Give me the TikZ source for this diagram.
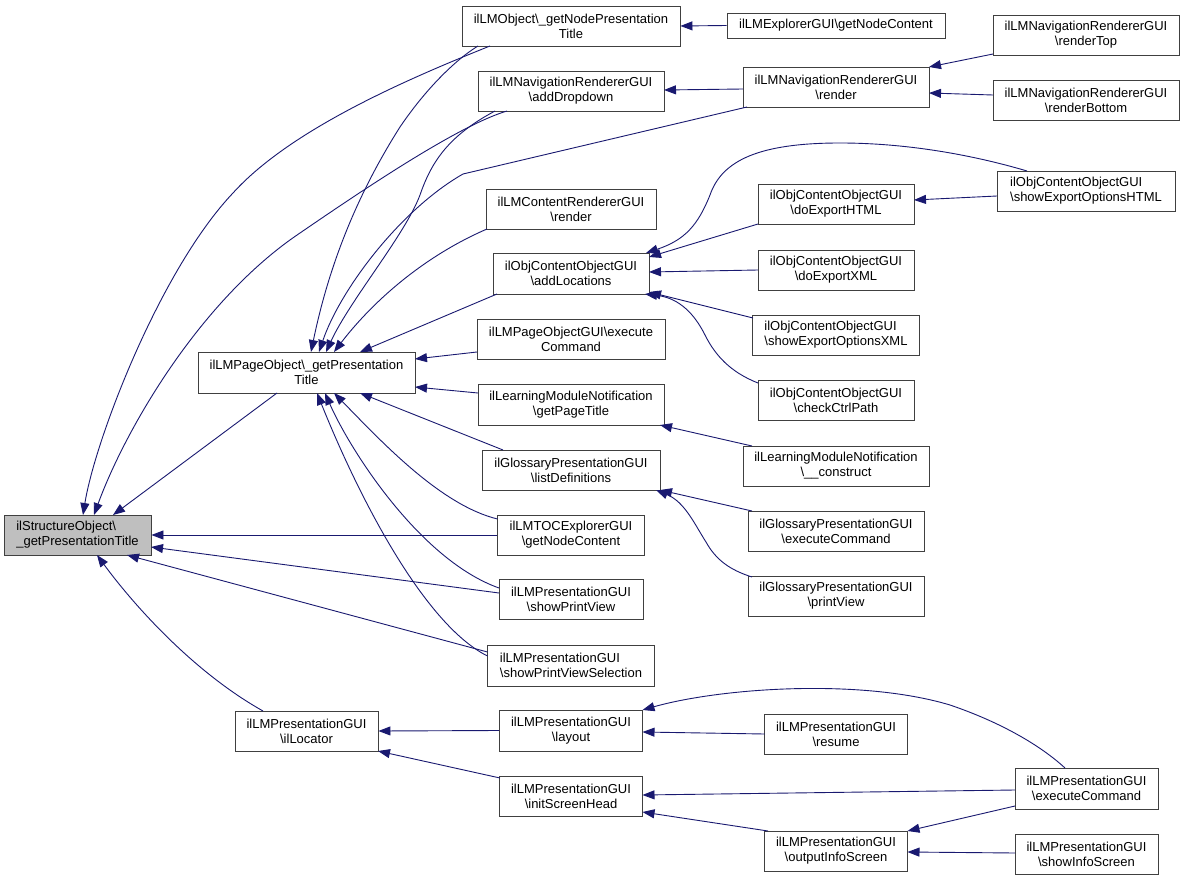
\documentclass[tikz,border=0pt]{standalone}
\usepackage{fontspec}
\setmainfont{Liberation Sans}
\usetikzlibrary{arrows.meta,calc}
\definecolor{edgecol}{HTML}{191970}
\definecolor{rootfill}{HTML}{BFBFBF}
\newcommand{\bs}{\textbackslash}
\begin{document}
\begin{tikzpicture}[x=1pt,y=-1pt,
  dbox/.style={draw=black!75,line width=0.9pt,fill=white,inner sep=0pt,align=center,
    font=\fontsize{13}{15}\selectfont},
  cl/.style={draw=edgecol,line width=0.9pt,{Triangle[length=12pt,width=9pt]}-}]
\fill[white] (0,0) rectangle (1184,880);
\useasboundingbox (0,0) rectangle (1184,880);
% nodes
\node[dbox,fill=rootfill,align=left,minimum width=147pt,minimum height=40pt] (S) at (77.5,535) {ilStructureObject\bs\\\_getPresentationTitle};
\node[dbox,minimum width=218pt,minimum height=40pt] (LMObj) at (571,26) {ilLMObject\bs\_getNodePresentation\\Title};
\node[dbox,minimum width=218pt,minimum height=25pt] (Expl) at (836,25.5) {ilLMExplorerGUI\bs getNodeContent};
\node[dbox,minimum width=186pt,minimum height=40pt] (RTop) at (1086,35) {ilLMNavigationRendererGUI\\\bs renderTop};
\node[dbox,minimum width=186pt,minimum height=40pt] (RBot) at (1086,100) {ilLMNavigationRendererGUI\\\bs renderBottom};
\node[dbox,minimum width=186pt,minimum height=40pt] (AddD) at (571,91) {ilLMNavigationRendererGUI\\\bs addDropdown};
\node[dbox,minimum width=186pt,minimum height=40pt] (Rend) at (836,87) {ilLMNavigationRendererGUI\\\bs render};
\node[dbox,minimum width=170pt,minimum height=40pt] (CRend) at (571,209) {ilLMContentRendererGUI\\\bs render};
\node[dbox,minimum width=156pt,minimum height=40pt] (DoHTML) at (836,204) {ilObjContentObjectGUI\\\bs doExportHTML};
\node[dbox,align=left,minimum width=178pt,minimum height=40pt] (SHTML) at (1086,191) {ilObjContentObjectGUI\\\bs showExportOptionsHTML};
\node[dbox,minimum width=156pt,minimum height=41pt] (AddLoc) at (571,273.5) {ilObjContentObjectGUI\\\bs addLocations};
\node[dbox,minimum width=156pt,minimum height=40pt] (DoXML) at (836,270) {ilObjContentObjectGUI\\\bs doExportXML};
\node[dbox,align=left,minimum width=167pt,minimum height=40pt] (SXML) at (836,335) {ilObjContentObjectGUI\\\bs showExportOptionsXML};
\node[dbox,minimum width=156pt,minimum height=40pt] (Check) at (836,400) {ilObjContentObjectGUI\\\bs checkCtrlPath};
\node[dbox,minimum width=217pt,minimum height=41pt] (PageObj) at (306.5,372.5) {ilLMPageObject\bs\_getPresentation\\Title};
\node[dbox,minimum width=188pt,minimum height=40pt] (PGUIExec) at (571,339) {ilLMPageObjectGUI\bs execute\\Command};
\node[dbox,minimum width=186pt,minimum height=41pt] (GetPT) at (571,404.5) {ilLearningModuleNotification\\\bs getPageTitle};
\node[dbox,minimum width=186pt,minimum height=40pt] (Constr) at (836,466) {ilLearningModuleNotification\\\bs\_\_construct};
\node[dbox,minimum width=178pt,minimum height=40pt] (ListDef) at (571,470) {ilGlossaryPresentationGUI\\\bs listDefinitions};
\node[dbox,minimum width=176pt,minimum height=40pt] (GExec) at (836,531) {ilGlossaryPresentationGUI\\\bs executeCommand};
\node[dbox,minimum width=147pt,minimum height=40pt] (TOC) at (571,535) {ilLMTOCExplorerGUI\\\bs getNodeContent};
\node[dbox,minimum width=176pt,minimum height=40pt] (PrintV) at (836,596) {ilGlossaryPresentationGUI\\\bs printView};
\node[dbox,minimum width=144pt,minimum height=40pt] (SPV) at (571,599) {ilLMPresentationGUI\\\bs showPrintView};
\node[dbox,align=left,minimum width=167pt,minimum height=41pt] (SPVS) at (571,665.5) {ilLMPresentationGUI\\\bs showPrintViewSelection};
\node[dbox,minimum width=143pt,minimum height=40pt] (Loc) at (306.5,731) {ilLMPresentationGUI\\\bs ilLocator};
\node[dbox,minimum width=143pt,minimum height=41pt] (Layout) at (571,730.5) {ilLMPresentationGUI\\\bs layout};
\node[dbox,minimum width=143pt,minimum height=40pt] (Resume) at (836,734) {ilLMPresentationGUI\\\bs resume};
\node[dbox,minimum width=143pt,minimum height=40pt] (ISH) at (571,796) {ilLMPresentationGUI\\\bs initScreenHead};
\node[dbox,minimum width=143pt,minimum height=41pt] (LExec) at (1086.5,788.5) {ilLMPresentationGUI\\\bs executeCommand};
\node[dbox,minimum width=143pt,minimum height=40pt] (OIS) at (836,851) {ilLMPresentationGUI\\\bs outputInfoScreen};
\node[dbox,minimum width=143pt,minimum height=40pt] (SIS) at (1086.5,854) {ilLMPresentationGUI\\\bs showInfoScreen};
% edges into S
\draw[cl] ($(S)+(5.5,-20)$) .. controls (95,440) and (160,270) .. (233,193) .. controls (290,130) and (405,80) .. ($(LMObj)+(-81,20)$);
\draw[cl] ($(S)+(16.5,-20)$) .. controls (125,430) and (200,300) .. (300,233) .. controls (370,185) and (460,125) .. ($(AddD)+(-64,20)$);
\draw[cl] ($(S)+(35.5,-20)$) -- ($(PageObj)+(-29.5,20.5)$);
\draw[cl] (S.east) -- (TOC.west);
\draw[cl] ($(S)+(73.5,12)$) -- ($(SPV)+(-72,-6)$);
\draw[cl] ($(S)+(49.5,20)$) -- ($(SPVS)+(-83.5,-13.5)$);
\draw[cl] ($(S)+(19.5,20)$) .. controls (130,600) and (190,670) .. ($(Loc)+(-43.5,-20)$);
% edges into PageObj
\draw[cl] ($(PageObj)+(4.5,-20.5)$) .. controls (330,260) and (360,190) .. (400,127) .. controls (425,90) and (455,60) .. ($(LMObj)+(-93,20)$);
\draw[cl] ($(PageObj)+(12.5,-20.5)$) .. controls (340,290) and (400,210) .. (463,174) -- ($(Rend)+(-89,20)$);
\draw[cl] ($(PageObj)+(19.5,-20.5)$) .. controls (350,300) and (405,235) .. (420,195) .. controls (432,160) and (450,135) .. ($(AddD)+(-76,20)$);
\draw[cl] ($(PageObj)+(27.5,-20.5)$) .. controls (370,305) and (420,258) .. ($(CRend)+(-84,20)$);
\draw[cl] ($(PageObj)+(53.5,-20.5)$) -- ($(AddLoc)+(-74,20.5)$);
\draw[cl] ($(PageObj)+(108.5,-13.5)$) -- ($(PGUIExec)+(-94,13)$);
\draw[cl] ($(PageObj)+(108.5,14.5)$) -- ($(GetPT)+(-93,-11.5)$);
\draw[cl] ($(PageObj)+(53.5,20.5)$) -- ($(ListDef)+(-68,-20)$);
\draw[cl] ($(PageObj)+(27.5,20.5)$) .. controls (380,440) and (440,505) .. ($(TOC)+(-73.5,-16)$);
\draw[cl] ($(PageObj)+(18.5,20.5)$) .. controls (350,450) and (420,560) .. ($(SPV)+(-72,-11)$);
\draw[cl] ($(PageObj)+(10.5,20.5)$) .. controls (360,500) and (425,625) .. ($(SPVS)+(-83.5,-9.5)$);
% top right
\draw[cl] (LMObj.east) -- (Expl.west);
\draw[cl] ($(AddD)+(93,-1)$) -- ($(Rend)+(-93,2)$);
\draw[cl] ($(Rend)+(93,-20)$) -- ($(RTop)+(-93,19)$);
\draw[cl] ($(Rend)+(93,6)$) -- ($(RBot)+(-93,-5)$);
% addLocations cluster
\draw[cl] ($(DoHTML)+(78,-4)$) -- ($(SHTML)+(-89,5)$);
\draw[cl] ($(AddLoc)+(75,-20.5)$) .. controls (685,240) and (698,225) .. (710,195) .. controls (722,160) and (760,143) .. (840,143) .. controls (920,143) and (990,160) .. ($(SHTML)+(-59,-20)$);
\draw[cl] ($(AddLoc)+(78,-16.5)$) -- ($(DoHTML)+(-78,20)$);
\draw[cl] ($(AddLoc)+(78,-1.5)$) -- ($(DoXML)+(-78,0)$);
\draw[cl] ($(AddLoc)+(78,18.5)$) -- ($(SXML)+(-83,-17)$);
\draw[cl] ($(AddLoc)+(74,20.5)$) .. controls (680,298) and (695,315) .. (705,335) .. controls (715,355) and (730,372) .. ($(Check)+(-78,-17)$);
% notification / glossary
\draw[cl] ($(GetPT)+(89,20.5)$) -- ($(Constr)+(-84,-20)$);
\draw[cl] ($(ListDef)+(89,20)$) -- ($(GExec)+(-84,-20)$);
\draw[cl] ($(ListDef)+(85,20)$) .. controls (685,502) and (695,525) .. (706,542) .. controls (716,560) and (730,570) .. ($(PrintV)+(-84,-19)$);
% presentation GUI
\draw[cl] (Loc.east) -- (Layout.west);
\draw[cl] ($(Loc)+(71.5,20)$) -- ($(ISH)+(-71,-18)$);
\draw[cl] ($(Layout)+(71.5,-20.5)$) .. controls (720,688) and (860,678) .. (950,705) .. controls (1000,722) and (1040,745) .. ($(LExec)+(-21.5,-20.5)$);
\draw[cl] ($(Layout)+(71.5,1.5)$) -- ($(Resume)+(-71.5,0)$);
\draw[cl] ($(ISH)+(71.5,-1)$) -- ($(LExec)+(-71.5,1.5)$);
\draw[cl] ($(ISH)+(71.5,16)$) -- ($(OIS)+(-68,-20)$);
\draw[cl] ($(OIS)+(71.5,-20)$) -- ($(LExec)+(-71.5,17.5)$);
\draw[cl] ($(OIS)+(71.5,1)$) -- ($(SIS)+(-71.5,-1)$);
\end{tikzpicture}
\end{document}
